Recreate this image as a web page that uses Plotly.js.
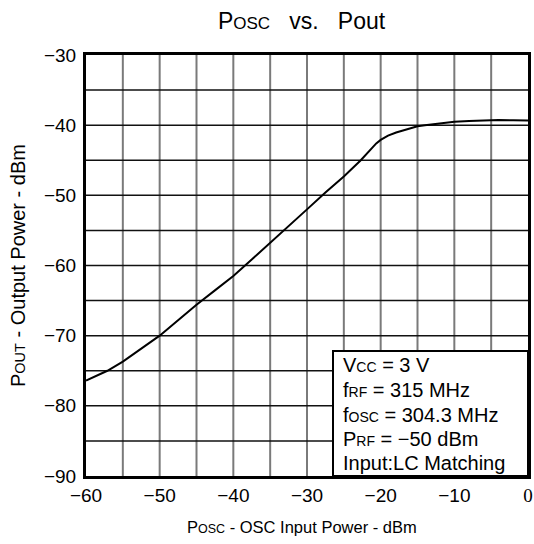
<!DOCTYPE html>
<html>
<head>
<meta charset="utf-8">
<script src="https://cdn.plot.ly/plotly-3.0.1.min.js"></script>
<style>html,body{margin:0;padding:0;background:#fff;}#chart{width:534px;height:544px;}</style>
</head>
<body>
<div id="chart"></div>
<script>
// Data
var posc = [-60, -57.1, -55, -52.5, -50, -47.5, -45, -42.5, -40, -37.5, -35, -32.5, -30, -27.5, -25, -22.7, -21.6, -20.6, -20, -19, -17.9, -17, -16, -15, -14, -13, -12, -11, -10, -8, -6, -4, -2, 0];
var pout = [-76.4, -75, -73.7, -71.9, -70, -67.8, -65.6, -63.55, -61.5, -59.15, -56.8, -54.4, -52.0, -49.6, -47.3, -45.0, -43.8, -42.6, -42.1, -41.5, -41.05, -40.75, -40.4, -40.15, -40.0, -39.85, -39.72, -39.6, -39.5, -39.4, -39.3, -39.27, -39.3, -39.35];
var xTickVals = [-60, -50, -40, -30, -20, -10, 0];
var xTickText = ['\u221260', '\u221250', '\u221240', '\u221230', '\u221220', '\u221210', '<span style="font-family:Liberation Serif">0</span>'];
var yTickVals = [-90, -80, -70, -60, -50, -40, -30];
var yTickText = ['\u221290', '\u221280', '\u221270', '\u221260', '\u221250', '\u221240', '\u221230'];
var boxLines = [
  'V<span style="font-size:14px">CC</span> = 3 V',
  'f<span style="font-size:14px">RF</span> = 315 MHz',
  'f<span style="font-size:14px">OSC</span> = 304.3 MHz',
  'P<span style="font-size:14px">RF</span> = \u221250 dBm',
  'Input:LC Matching'
];

var FONT = 'Liberation Sans, Arial, sans-serif';

var trace = {
  x: posc, y: pout, type: 'scatter', mode: 'lines',
  line: {color: '#000', width: 2, shape: 'linear'},
  hoverinfo: 'skip', showlegend: false
};

var annotations = [];
// x-axis title
annotations.push({
  xref: 'paper', yref: 'paper', x: (302 - 86) / 442, y: (476 - 527) / 421,
  xanchor: 'center', yanchor: 'middle', showarrow: false,
  text: 'P<span style="font-size:12.5px">OSC</span> - OSC Input Power - dBm',
  font: {family: FONT, size: 16.5, color: '#000'}
});
// y-axis title
annotations.push({
  xref: 'paper', yref: 'paper', x: (18 - 86) / 442, y: (476 - 266) / 421,
  xanchor: 'center', yanchor: 'middle', showarrow: false, textangle: -90,
  text: 'P<span style="font-size:14.5px">OUT</span> - Output Power - dBm',
  font: {family: FONT, size: 20, color: '#000'}
});
// text box lines
var lineY = [365, 390, 414.5, 439, 463];
for (var i = 0; i < boxLines.length; i++) {
  annotations.push({
    xref: 'paper', yref: 'paper', x: (341 - 86) / 442, y: (476 - lineY[i]) / 421,
    xanchor: 'left', yanchor: 'middle', showarrow: false,
    text: boxLines[i],
    font: {family: FONT, size: 20, color: '#000'}
  });
}

var layout = {
  width: 534, height: 544,
  margin: {l: 86, r: 6, t: 55, b: 68},
  paper_bgcolor: '#fff', plot_bgcolor: '#fff',
  font: {family: FONT, size: 19, color: '#000'},
  title: {
    text: 'P<span style="font-size:17px">OSC</span>&#160;&#160;&#160;vs.&#160;&#160;&#160;Pout',
    font: {family: FONT, size: 23, color: '#000'},
    xref: 'paper', x: (301.5 - 86) / 442, xanchor: 'center',
    yref: 'container', y: 1 - 21 / 544, yanchor: 'middle'
  },
  xaxis: {
    range: [-60, 0], tickvals: xTickVals, ticktext: xTickText,
    showgrid: false, zeroline: false,
    showline: true, mirror: true, linecolor: '#000', linewidth: 3,
    ticks: '', ticklabelstandoff: 0,
    tickfont: {family: FONT, size: 19, color: '#000'}, fixedrange: true
  },
  yaxis: {
    range: [-90, -30], tickvals: yTickVals, ticktext: yTickText,
    showgrid: false, zeroline: false,
    showline: true, mirror: true, linecolor: '#000', linewidth: 3,
    ticks: '', ticklabelstandoff: 3,
    tickfont: {family: FONT, size: 19, color: '#000'}, fixedrange: true
  },
  shapes: [],
  annotations: annotations
};

// grid lines (every 5 units) drawn as shapes under the trace
var gx = [-55, -50, -45, -40, -35, -30, -25, -20, -15, -10, -5];
var gy = [-85, -80, -75, -70, -65, -60, -55, -50, -45, -40, -35];
gx.forEach(function (v) {
  layout.shapes.push({type: 'line', xref: 'x', yref: 'paper', x0: v, x1: v, y0: 0, y1: 1,
    line: {color: '#7a7a7a', width: 2}, layer: 'below'});
});
gy.forEach(function (v) {
  layout.shapes.push({type: 'line', xref: 'paper', yref: 'y', x0: 0, x1: 1, y0: v, y1: v,
    line: {color: '#111', width: 1.5}, layer: 'below'});
});
// text box (white fill covers grid)
layout.shapes.push({type: 'rect', xref: 'paper', yref: 'paper',
  x0: (333 - 86) / 442, x1: 1, y0: 0, y1: (476 - 351) / 421,
  fillcolor: '#fff', line: {color: '#000', width: 2}, layer: 'above'});

Plotly.newPlot('chart', [trace], layout, {displayModeBar: false, staticPlot: true});
</script>
</body>
</html>
